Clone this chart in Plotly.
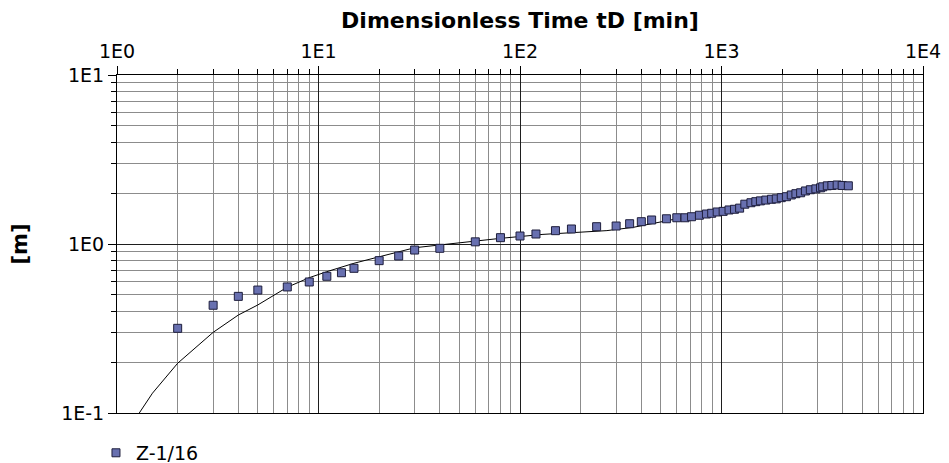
import plotly.graph_objects as go

# measured data (Z-1/16)
t_obs = [2, 3, 4, 5, 7, 9, 11, 13, 15, 20, 25, 30, 40, 60, 80, 100, 120, 150, 180,
         240, 300, 350, 400, 450, 533, 600, 659, 710, 777, 842, 894, 952, 1019,
         1090, 1160, 1230, 1305, 1400, 1480, 1560, 1660, 1770, 1870, 1980, 2100,
         2220, 2340, 2470, 2610, 2760, 2940, 3100, 3180, 3350, 3530, 3750, 3970, 4260]
v_obs = [0.317, 0.434, 0.49, 0.534, 0.557, 0.596, 0.644, 0.676, 0.718, 0.797,
         0.849, 0.921, 0.943, 1.03, 1.09, 1.115, 1.146, 1.199, 1.227, 1.266, 1.278,
         1.318, 1.355, 1.387, 1.41, 1.43, 1.43, 1.45, 1.48, 1.505, 1.52, 1.547,
         1.56, 1.59, 1.605, 1.63, 1.72, 1.755, 1.78, 1.80, 1.82, 1.84, 1.85, 1.88,
         1.905, 1.95, 1.985, 2.01, 2.06, 2.095, 2.12, 2.15, 2.18, 2.21, 2.22,
         2.235, 2.22, 2.21]

# fitted type curve
t_fit = [1.29, 1.5, 2, 3, 4, 5, 7, 9, 11, 15, 20, 30, 40, 60, 80, 130, 200, 270,
         365, 477, 600, 800, 1000, 1300, 1600, 2000, 2500, 3000, 3500, 4260]
v_fit = [0.1, 0.131, 0.197, 0.30, 0.38, 0.436, 0.555, 0.632, 0.686, 0.769, 0.84,
         0.95, 0.987, 1.046, 1.08, 1.14, 1.18, 1.20, 1.255, 1.34, 1.41, 1.49, 1.54,
         1.70, 1.80, 1.87, 2.0, 2.14, 2.21, 2.22]

x_tickvals = [1, 10, 100, 1000, 10000]
x_ticktext = ["1E0", "1E1", "1E2", "1E3", "1E4"]
y_tickvals = [0.1, 1, 10]
y_ticktext = ["1E-1", "1E0", "1E1"]

x_minor = [m * 10 ** d for d in range(0, 4) for m in range(2, 10)]
y_minor = [m * 10 ** d for d in (-1, 0) for m in range(2, 10)]

FONT = "DejaVu Sans"

fig = go.Figure()
fig.add_trace(go.Scatter(x=t_fit, y=v_fit, mode="lines",
                         line=dict(color="black", width=1),
                         showlegend=False, hoverinfo="skip"))
fig.add_trace(go.Scatter(x=t_obs, y=v_obs, mode="markers", name="Z-1/16",
                         marker=dict(symbol="square", size=8,
                                     color="rgb(104,112,176)",
                                     line=dict(color="rgb(30,30,60)", width=1))))

axis_common = dict(
    showline=True, linecolor="black", linewidth=1, mirror=True,
    ticks="outside", ticklen=8, tickcolor="black",
    showgrid=True, gridcolor="rgb(30,30,30)", gridwidth=1,
    zeroline=False, automargin=False,
    tickfont=dict(family=FONT, size=19, color="black"),
)

fig.update_layout(
    width=949, height=463,
    margin=dict(l=109, r=34, t=67, b=58),
    paper_bgcolor="white", plot_bgcolor="white",
    font=dict(family=FONT, color="black"),
    xaxis=dict(type="log", range=[0, 4], side="top",
               tickmode="array", tickvals=x_tickvals, ticktext=x_ticktext,
               title=dict(text="<b>Dimensionless Time tD [min]</b>",
                          font=dict(family=FONT, size=22), standoff=8),
               minor=dict(tickmode="array", tickvals=x_minor, ticks="outside",
                          ticklen=5, tickcolor="black", showgrid=True,
                          gridcolor="rgb(140,140,140)", gridwidth=1),
               **axis_common),
    yaxis=dict(type="log", range=[-1, 1],
               tickmode="array", tickvals=y_tickvals, ticktext=y_ticktext,
               title=dict(text="<b>[m]</b>", font=dict(family=FONT, size=21),
                          standoff=28),
               minor=dict(tickmode="array", tickvals=y_minor, ticks="outside",
                          ticklen=5, tickcolor="black", showgrid=True,
                          gridcolor="rgb(140,140,140)", gridwidth=1),
               **axis_common),
    legend=dict(xref="container", yref="container", x=0.0927, xanchor="left",
                y=0.039, yanchor="middle",
                orientation="h", font=dict(family=FONT, size=19),
                bgcolor="rgba(0,0,0,0)"),
)

fig.write_html("out.html")
